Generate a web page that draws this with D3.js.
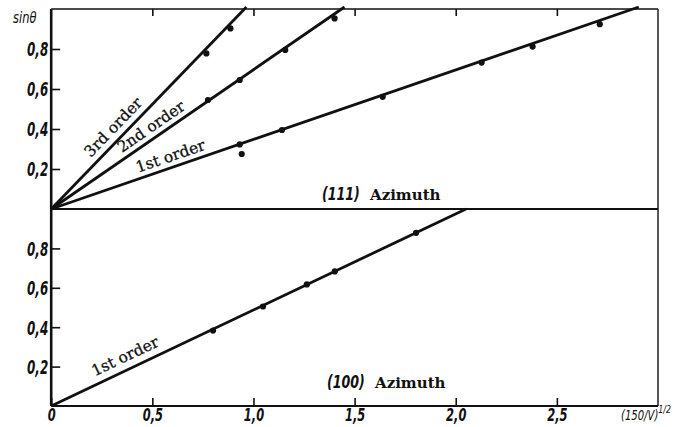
<!DOCTYPE html>
<html><head><meta charset="utf-8">
<script src="https://cdn.jsdelivr.net/npm/d3@7/dist/d3.min.js"></script>
<style>
body{margin:0;background:#fff}
.tick text{font-family:"DejaVu Sans Condensed","DejaVu Sans",sans-serif;font-stretch:condensed;font-style:italic;font-weight:bold;font-size:19px;fill:#111}
.lbl{font-family:"DejaVu Serif",serif;font-size:15.5px;fill:#111;stroke:#111;stroke-width:0.3}
.cond{font-family:"DejaVu Sans Condensed","DejaVu Sans",sans-serif;font-stretch:condensed;font-style:italic;fill:#111}
</style>
</head><body>
<svg id="c" width="680" height="427"></svg>
<script>
// ---- data ----
const xTicks=[0,0.5,1.0,1.5,2.0,2.5];
const xTickLabels=["0","0,5","1,0","1,5","2,0","2,5"];
const yTicks=[0.2,0.4,0.6,0.8];
const yTickLabels=["0,2","0,4","0,6","0,8"];
// (111) azimuth, measured points
const p111_3rdX=[0.767,0.886];
const p111_3rdY=[0.778,0.903];
const p111_2ndX=[0.775,0.932,1.157,1.401];
const p111_2ndY=[0.545,0.645,0.795,0.953];
const p111_1stX=[0.932,0.942,1.141,1.639,2.128,2.380,2.712];
const p111_1stY=[0.323,0.275,0.395,0.561,0.732,0.812,0.924];
// (111) fitted lines (end points)
const fit111_3rd=[[0,0],[0.965,1.01]];
const fit111_2nd=[[0,0],[1.450,1.01]];
const fit111_1st=[[0,0],[2.905,1.01]];
// (100) azimuth
const p100_1stX=[0.800,1.047,1.264,1.402,1.804];
const p100_1stY=[0.383,0.505,0.617,0.683,0.879];
const fit100_1st=[[0,0],[2.051,1.0]];

const lineLabels111=["3rd order","2nd order","1st order"];
const lineLabels100=["1st order"];

// ---- layout ----
const SX=0.7;
const svg=d3.select("#c");
const x=d3.scaleLinear([0,3],[51.2,658]);
const yT=d3.scaleLinear([0,1],[209,9]);
const yB=d3.scaleLinear([0,1],[406,209]);

// axes
const fmtY=(d)=>yTickLabels[yTicks.indexOf(d)];
const gyT=svg.append("g").attr("transform",`translate(${x(0)},0)`)
  .call(d3.axisLeft(yT).tickValues(yTicks).tickSize(-9).tickPadding(3).tickFormat(fmtY));
const gyB=svg.append("g").attr("transform",`translate(${x(0)},0)`)
  .call(d3.axisLeft(yB).tickValues(yTicks).tickSize(-9).tickPadding(3).tickFormat(fmtY));
const gxB=svg.append("g").attr("transform",`translate(0,${yB(0)})`)
  .call(d3.axisBottom(x).tickValues(xTicks).tickSize(-8).tickPadding(3).tickFormat((d,i)=>xTickLabels[i]));
const gxT=svg.append("g").attr("transform",`translate(0,${yT(1)})`)
  .call(d3.axisTop(x).tickValues(xTicks.slice(1)).tickSize(-7).tickFormat(""));
[gyT,gyB,gxB,gxT].forEach(g=>{g.select(".domain").remove();g.selectAll(".tick line").attr("stroke","#111").attr("stroke-width",1.6);});
[gyT,gyB].forEach(g=>g.selectAll(".tick text").attr("dy","0.36em")
  .attr("x",-3/SX).attr("transform",`scale(${SX},1)`));
gxB.selectAll(".tick text").attr("dy","0.7em").style("font-size","17px").attr("transform",`scale(${SX+0.05},1)`);

// frame
const fr=svg.append("g").attr("stroke","#111").attr("fill","none");
fr.append("line").attr("x1",x(0)).attr("x2",x(3)).attr("y1",yT(1)).attr("y2",yT(1)).attr("stroke-width",1.6);
fr.append("line").attr("x1",x(3)).attr("x2",x(3)).attr("y1",yT(1)).attr("y2",yB(0)).attr("stroke-width",1.4);
fr.append("line").attr("x1",x(0)).attr("x2",x(3)).attr("y1",yT(0)).attr("y2",yT(0)).attr("stroke-width",2);
fr.append("line").attr("x1",x(0)).attr("x2",x(3)).attr("y1",yB(0)).attr("y2",yB(0)).attr("stroke-width",2.2);
fr.append("line").attr("x1",x(0)).attr("x2",x(0)).attr("y1",yT(1)).attr("y2",yB(0)).attr("stroke-width",2.6);

// fitted lines
const drawLine=(pts,ys)=>svg.append("path")
  .attr("d",d3.line().x(d=>x(d[0])).y(d=>ys(d[1]))(pts))
  .attr("stroke","#111").attr("stroke-width",2.8).attr("fill","none");
drawLine(fit111_3rd,yT);drawLine(fit111_2nd,yT);drawLine(fit111_1st,yT);
drawLine(fit100_1st,yB);

// points
const drawPts=(xs,vs,ys)=>svg.append("g").selectAll("circle").data(xs).join("circle")
  .attr("cx",d=>x(d)).attr("cy",(d,i)=>ys(vs[i])).attr("r",3.1).attr("fill","#111");
drawPts(p111_3rdX,p111_3rdY,yT);
drawPts(p111_2ndX,p111_2ndY,yT);
drawPts(p111_1stX,p111_1stY,yT);
drawPts(p100_1stX,p100_1stY,yB);

// labels along lines
function lineLabel(fit,ys,text,along,off){
  const x0=x(fit[0][0]),y0=ys(fit[0][1]),x1=x(fit[1][0]),y1=ys(fit[1][1]);
  const L=Math.hypot(x1-x0,y1-y0), ux=(x1-x0)/L, uy=(y1-y0)/L;
  const ang=Math.atan2(y1-y0,x1-x0)*180/Math.PI;
  const px=x0+ux*along, py=y0+uy*along;
  svg.append("text").attr("class","lbl")
    .attr("transform",`translate(${px},${py}) rotate(${ang})`)
    .attr("text-anchor","middle").attr("dy",-off).text(text);
}
lineLabel(fit111_3rd,yT,lineLabels111[0],102,7);
lineLabel(fit111_2nd,yT,lineLabels111[1],129,6);
lineLabel(fit111_1st,yT,lineLabels111[2],130,6);
lineLabel(fit100_1st,yB,lineLabels100[0],88,8);

// panel titles
function panelTitle(px,py,miller){
  svg.append("text").attr("class","cond").attr("font-weight","bold").attr("font-size",18)
    .attr("transform",`translate(${px},${py}) scale(0.78,1)`).text(miller);
  svg.append("text").attr("x",px+48).attr("y",py)
    .attr("font-family","DejaVu Serif, serif").attr("font-weight","bold").attr("fill","#111")
    .attr("font-size",15).text("Azimuth");
}
panelTitle(322,200,"(111)");
panelTitle(327,388,"(100)");

// axis titles
svg.append("text").attr("class","cond").attr("font-size",15)
  .attr("transform","translate(13,23) scale(0.85,1)").text("sinθ");
const xt=svg.append("text").attr("class","cond").attr("font-size",14)
  .attr("transform","translate(621,420) scale(0.8,1)");
xt.append("tspan").text("(150/V)");
xt.append("tspan").attr("dy",-7).attr("font-size",11).text("1/2");
</script>
</body></html>
